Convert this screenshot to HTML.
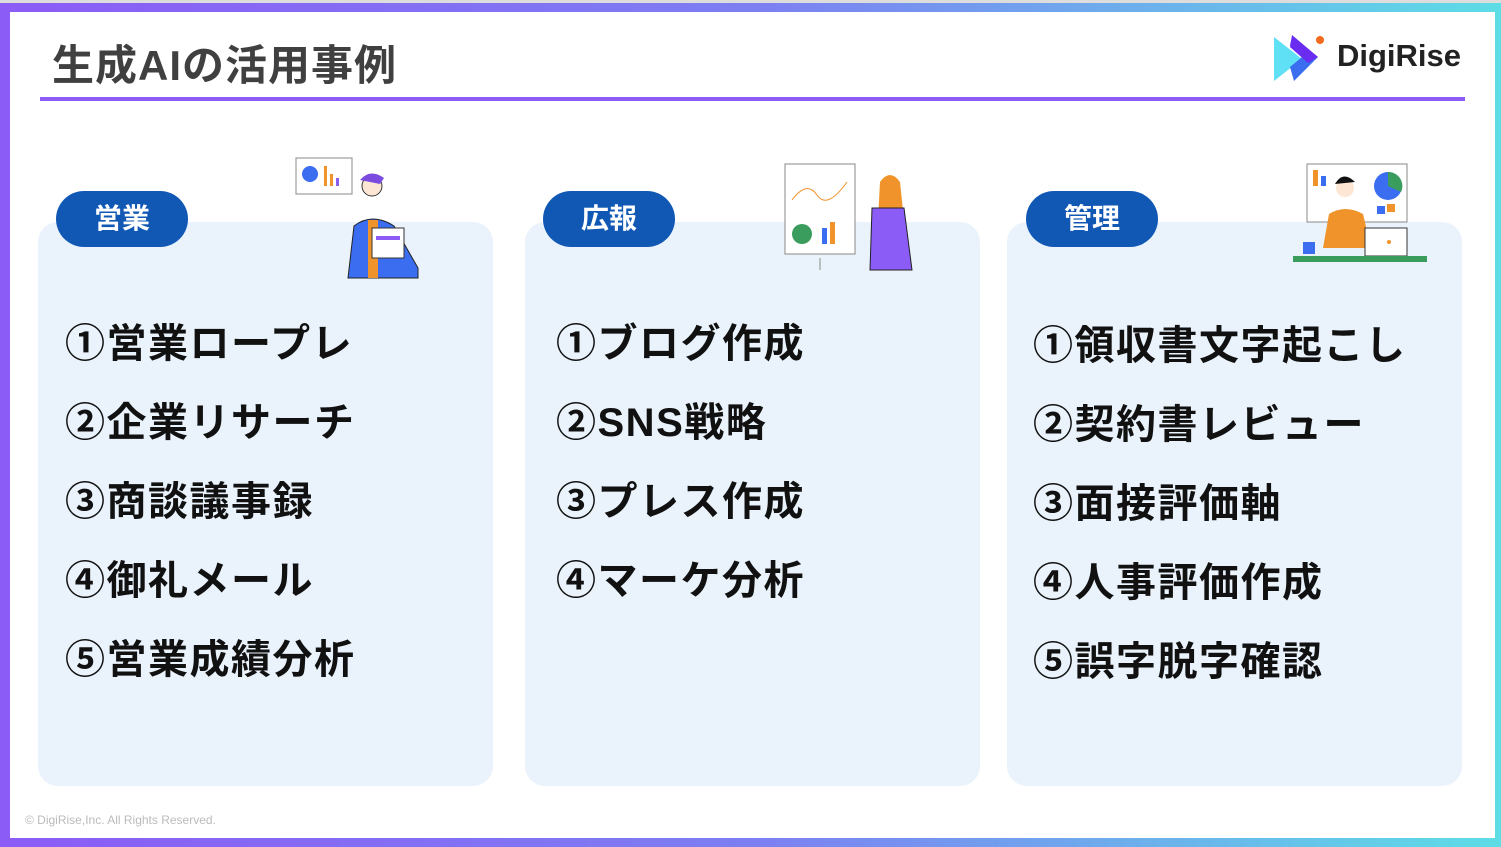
<!DOCTYPE html>
<html><head><meta charset="utf-8"><style>
*{margin:0;padding:0;box-sizing:border-box}
body{width:1501px;height:847px;position:relative;overflow:hidden;background:#ddd;font-family:"Liberation Sans","Noto Sans CJK JP",sans-serif}
.frame{position:absolute;left:0;top:3px;width:1501px;height:844px;background:linear-gradient(90deg,#8b5cf6 0%,#7d7ef2 50%,#5ddde6 100%)}
.inner{position:absolute;left:10px;top:12px;width:1485px;height:826px;background:#fff}
.title{position:absolute;left:52px;top:32px;font-size:42px;font-weight:bold;color:#404040;letter-spacing:1px}
.line{position:absolute;left:40px;top:97px;width:1425px;height:4px;background:#8b5cf6}
.card{position:absolute;top:222px;width:455px;height:564px;background:#eaf3fc;border-radius:20px}
.pill{position:absolute;top:191px;width:132px;height:56px;border-radius:28px;background:#1158b5;color:#fff;font-weight:bold;font-size:28px;text-align:center;line-height:56px}
.item{position:absolute;font-size:40px;font-weight:bold;color:#111;line-height:48px;white-space:nowrap;letter-spacing:1.5px}
.foot{position:absolute;left:25px;top:813px;font-size:12px;color:#bbb}
.logo{position:absolute;left:1337px;top:38px;font-size:31px;font-weight:bold;color:#222}
</style></head><body>
<div class="frame"></div>
<div class="inner"></div>
<div class="title">生成AIの活用事例</div>
<div class="line"></div>
<svg style="position:absolute;left:1272px;top:33px" width="56" height="52">
<path d="M2 4 L30 26 L2 48 Z" fill="#5fe0f5"/>
<path d="M20 4 L46 24 L22 48 L18 34 L30 24 L18 12Z" fill="#3a6df0"/>
<path d="M20 2 L46 24 L36 30 L18 14Z" fill="#6a2cf0"/>
<circle cx="48" cy="7" r="4" fill="#f26b1d"/>
</svg>
<div class="logo">DigiRise</div>

<div class="card" style="left:38px"></div>
<div class="card" style="left:525px"></div>
<div class="card" style="left:1007px"></div>
<div class="pill" style="left:56px">営業</div>
<div class="pill" style="left:543px">広報</div>
<div class="pill" style="left:1026px">管理</div>

<svg style="position:absolute;left:294px;top:156px" width="130" height="126">
<rect x="2" y="2" width="56" height="36" fill="#fff" stroke="#888"/>
<circle cx="16" cy="18" r="8" fill="#3a6df0"/><rect x="30" y="10" width="3" height="20" fill="#f0932b"/><rect x="36" y="18" width="3" height="12" fill="#f0932b"/><rect x="42" y="22" width="3" height="8" fill="#8b5cf6"/>
<circle cx="78" cy="30" r="10" fill="#fde7d4" stroke="#333"/><path d="M66 24 Q76 12 90 22 L86 28Z" fill="#7b4be0"/>
<path d="M54 122 L60 70 Q78 56 100 70 L124 112 L124 122Z" fill="#3a6df0" stroke="#222"/>
<rect x="74" y="64" width="10" height="58" fill="#f0932b"/>
<rect x="78" y="72" width="32" height="30" fill="#fff" stroke="#333"/><rect x="82" y="80" width="24" height="4" fill="#8b5cf6"/>
</svg>
<svg style="position:absolute;left:782px;top:160px" width="140" height="115">
<rect x="3" y="4" width="70" height="90" fill="#fff" stroke="#888"/>
<path d="M10 40 Q25 20 35 35 T65 22" stroke="#f0932b" fill="none"/>
<circle cx="20" cy="74" r="10" fill="#3a9d5d"/><rect x="40" y="68" width="5" height="16" fill="#3a6df0"/><rect x="48" y="62" width="5" height="22" fill="#f0932b"/>
<line x1="38" y1="98" x2="38" y2="110" stroke="#888"/>
<circle cx="108" cy="28" r="9" fill="#fde7d4"/><path d="M98 22 Q108 8 118 22 L122 60 L96 60Z" fill="#f0932b"/>
<path d="M90 48 L122 48 L130 110 L88 110Z" fill="#8b5cf6" stroke="#222"/>
</svg>
<svg style="position:absolute;left:1293px;top:162px" width="136" height="104">
<rect x="14" y="2" width="100" height="58" fill="#fff" stroke="#888"/>
<rect x="20" y="8" width="5" height="16" fill="#f0932b"/><rect x="28" y="14" width="5" height="10" fill="#3a6df0"/>
<circle cx="95" cy="24" r="14" fill="#3a6df0"/><path d="M95 10 A14 14 0 0 1 108 30 L95 24Z" fill="#3a9d5d"/>
<rect x="84" y="44" width="8" height="8" fill="#3a6df0"/><rect x="94" y="42" width="8" height="8" fill="#f0932b"/>
<circle cx="52" cy="26" r="9" fill="#fde7d4"/><path d="M42 22 Q50 8 62 20Z" fill="#111"/>
<path d="M30 86 L36 52 Q52 42 70 52 L78 86Z" fill="#f0932b"/>
<rect x="72" y="66" width="42" height="28" fill="#fff" stroke="#333"/><circle cx="96" cy="80" r="2" fill="#f0932b"/>
<rect x="10" y="80" width="12" height="12" fill="#3a6df0"/>
<rect x="0" y="94" width="134" height="6" fill="#3a9d5d"/>
</svg>

<div class="item" style="left:65px;top:320px">①営業ロープレ</div>
<div class="item" style="left:65px;top:399px">②企業リサーチ</div>
<div class="item" style="left:65px;top:478px">③商談議事録</div>
<div class="item" style="left:65px;top:557px">④御礼メール</div>
<div class="item" style="left:65px;top:636px">⑤営業成績分析</div>

<div class="item" style="left:556px;top:320px">①ブログ作成</div>
<div class="item" style="left:556px;top:399px">②SNS戦略</div>
<div class="item" style="left:556px;top:478px">③プレス作成</div>
<div class="item" style="left:556px;top:557px">④マーケ分析</div>

<div class="item" style="left:1033px;top:322px">①領収書文字起こし</div>
<div class="item" style="left:1033px;top:401px">②契約書レビュー</div>
<div class="item" style="left:1033px;top:480px">③面接評価軸</div>
<div class="item" style="left:1033px;top:559px">④人事評価作成</div>
<div class="item" style="left:1033px;top:638px">⑤誤字脱字確認</div>

<div class="foot">© DigiRise,Inc. All Rights Reserved.</div>
</body></html>
